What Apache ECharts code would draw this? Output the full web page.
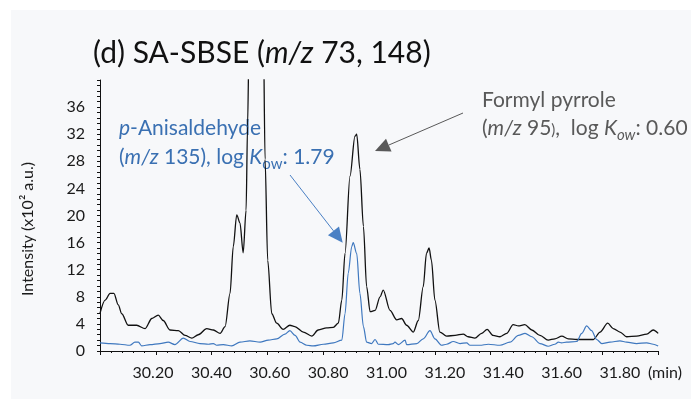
<!DOCTYPE html>
<html><head><meta charset="utf-8">
<script src="https://cdn.jsdelivr.net/npm/echarts@6/dist/echarts.min.js"></script>
<style>html,body{margin:0;padding:0;background:#fff}#c{width:691px;height:399px}</style>
</head><body><div id="c"></div>
<script>
// ---- data ----
const blackTime = [
30.018,30.036,30.053,30.066,30.081,30.093,30.115,30.144,30.173,30.196,
30.218,30.235,30.258,30.287,30.310,30.333,30.355,30.384,30.407,30.430,
30.447,30.464,30.475,30.487,30.498,30.509,30.519,30.524,30.530,30.553,
30.578,30.584,30.593,30.607,30.624,30.646,30.669,30.686,30.715,30.744,
30.766,30.795,30.818,30.835,30.847,30.858,30.875,30.892,30.898,30.909,
30.921,30.932,30.944,30.961,30.978,30.989,31.012,31.035,31.052,31.069,
31.092,31.109,31.126,31.137,31.146,31.154,31.166,31.183,31.206,31.235,
31.263,31.280,31.303,31.326,31.345,31.365,31.389,31.412,31.434,31.452,
31.474,31.498,31.526,31.554,31.577,31.601,31.623,31.652,31.709,31.732,
31.758,31.777,31.800,31.823,31.857,31.892,31.914,31.931];
const blackIntensity = [
5.5,7.5,8.5,8.5,6.8,5.5,3.8,3.8,3.3,4.8,
5.3,4.5,3.1,3.0,2.3,1.9,2.4,3.3,3.1,2.6,
3.6,8.5,15.4,20.1,18.9,14.5,20.8,33.2,48,75,
48,28.3,13.4,5.5,4.1,3.2,3.8,3.6,2.8,2.2,
3.1,3.4,3.5,4.1,7.5,14.4,25.8,31.7,32.0,26.8,
18.4,9.5,5.8,6.0,8.0,9.0,6.0,4.6,4.8,3.8,
2.8,4.5,9.5,14.4,15.2,13.4,7.5,2.8,2.2,2.3,
2.5,2.1,1.9,2.6,3.2,2.3,2.1,2.6,3.9,3.7,
3.9,3.1,2.3,1.6,1.8,2.2,1.8,1.7,1.7,2.8,
4.1,3.3,2.8,2.1,2.2,2.5,3.1,2.6];
const blueTime = [
30.018,30.053,30.087,30.121,30.138,30.150,30.161,30.190,30.224,30.252,
30.275,30.304,30.327,30.361,30.390,30.407,30.418,30.441,30.470,30.498,
30.532,30.567,30.595,30.624,30.652,30.669,30.687,30.704,30.727,30.749,
30.784,30.818,30.847,30.858,30.869,30.881,30.886,30.898,30.909,30.921,
30.932,30.949,30.961,30.972,31.006,31.023,31.029,31.041,31.064,31.069,
31.104,31.126,31.149,31.166,31.189,31.206,31.229,31.252,31.275,31.286,
31.320,31.349,31.389,31.423,31.452,31.475,31.498,31.526,31.554,31.577,
31.589,31.600,31.617,31.652,31.669,31.686,31.703,31.720,31.738,31.766,
31.800,31.823,31.857,31.892,31.914,31.931];
const blueIntensity = [
1.2,1.1,1.0,0.85,1.3,1.3,0.75,0.95,1.1,1.3,
0.95,1.9,1.4,1.1,1.0,1.1,0.85,0.95,0.75,1.3,
1.5,1.3,1.6,1.8,2.5,3.0,2.3,1.3,0.85,0.75,
1.0,1.2,1.6,5.5,11.5,15.4,16.0,14.4,8.5,3.6,
1.3,1.1,1.7,1.0,0.95,1.1,1.3,0.95,1.6,0.95,
1.1,1.8,3.0,1.8,0.85,1.0,1.4,1.1,1.2,0.85,
0.85,1.0,0.85,1.3,2.3,2.6,2.1,1.1,0.7,1.0,
1.3,1.2,1.3,1.4,2.6,3.7,3.0,1.7,1.1,1.3,
1.5,1.3,1.1,1.2,1.0,0.75];
const xLabelValues = [30.2,30.4,30.6,30.8,31.0,31.2,31.4,31.6,31.8];
const xAxisUnitLabel = '(min)';
const yTickValues = [0,4,8,12,16,20,24,28,32,36];

// ---- chart ----
const FONT = 'Lato, "Noto Sans", sans-serif';
const xMin = 30.0184, xMax = 31.9304, xTick = 0.1912;
const zip = (a, b) => a.map((v, i) => [v, b[i]]);

function arrow(x1, y1, x2, y2, color, len, half) {
  const dx = x2 - x1, dy = y2 - y1, L = Math.hypot(dx, dy);
  const ux = dx / L, uy = dy / L;
  const bx = x2 - ux * len, by = y2 - uy * len;
  return [
    {type: 'line', shape: {x1, y1, x2: bx, y2: by}, style: {stroke: color, lineWidth: 1}},
    {type: 'polygon', shape: {points: [[x2, y2], [bx - uy * half, by + ux * half], [bx + uy * half, by - ux * half]]},
     style: {fill: color}}
  ];
}

const chart = echarts.init(document.getElementById('c'), null, {renderer: 'canvas'});
const blueText = '#3a70b2';
const grayText = '#595959';
const AF = 21;
chart.setOption({
  animation: false,
  backgroundColor: '#ffffff',
  grid: {left: 100, right: 33, top: 80, bottom: 48},
  xAxis: {
    type: 'value', min: xMin, max: xMax, interval: xTick,
    axisLine: {show: true, lineStyle: {color: '#111', width: 1}},
    axisTick: {show: true, length: 4, lineStyle: {color: '#111'}},
    minorTick: {show: true, splitNumber: 5, length: 2, lineStyle: {color: '#111'}},
    splitLine: {show: false},
    axisLabel: {
      customValues: xLabelValues.concat([xMax]),
      margin: 14, fontSize: 16, fontFamily: FONT, color: '#1a1a1a',
      formatter: v => (v > 31.9 ? '{u|' + xAxisUnitLabel + '}' : v.toFixed(2)),
      rich: {u: {fontSize: 16, fontFamily: FONT, color: '#1a1a1a', padding: [0, 0, 0, 14]}}
    }
  },
  yAxis: {
    type: 'value', min: 0, max: 40, interval: 4,
    axisLine: {show: true, lineStyle: {color: '#111', width: 1}},
    axisTick: {show: true, length: 3, lineStyle: {color: '#111'}},
    minorTick: {show: true, splitNumber: 5, length: 3, lineStyle: {color: '#111'}},
    splitLine: {show: false},
    axisLabel: {customValues: yTickValues, margin: 15, fontSize: 16, fontFamily: FONT, color: '#1a1a1a'}
  },
  series: [
    {type: 'line', data: zip(blackTime, blackIntensity), showSymbol: false, smooth: 0.3,
     smoothMonotone: 'x', lineStyle: {color: '#111', width: 1.3}, clip: true, z: 3},
    {type: 'line', data: zip(blueTime, blueIntensity), showSymbol: false, smooth: 0.3,
     smoothMonotone: 'x', lineStyle: {color: '#3f78bf', width: 1.2}, clip: true, z: 4}
  ],
  graphic: [
    {type: 'rect', z: -10, shape: {x: 11, y: 10, width: 680, height: 389}, style: {fill: '#f7f8fa'}},
    {type: 'text', x: 93, y: 53, style: {
      text: '{n|(d) SA-SBSE (}{i|m/z}{n| 73, 148)}',
      verticalAlign: 'middle', align: 'left',
      rich: {n: {fontSize: 30, fontFamily: FONT, fill: '#111'}, i: {fontSize: 30, fontFamily: FONT, fontStyle: 'italic', fill: '#111'}}
    }},
    {type: 'text', x: 28, y: 229, rotation: Math.PI / 2, style: {
      text: 'Intensity (x10² a.u.)', fontSize: 16, fontFamily: FONT, fill: '#1a1a1a',
      align: 'center', verticalAlign: 'middle'
    }},
    {type: 'text', x: 119, y: 128, style: {
      text: '{i|p}{n|-Anisaldehyde}', verticalAlign: 'middle', align: 'left',
      rich: {n: {fontSize: AF, fontFamily: FONT, fill: blueText}, i: {fontSize: AF, fontFamily: FONT, fontStyle: 'italic', fill: blueText}}
    }},
    {type: 'text', x: 119, y: 157, style: {
      text: '{n|(}{i|m/z}{n| 135), log }{i|K}{s|ow}{n|: 1.79}', verticalAlign: 'middle', align: 'left',
      rich: {
        n: {fontSize: AF, fontFamily: FONT, fill: blueText, lineHeight: 29, verticalAlign: 'middle'},
        i: {fontSize: AF, fontFamily: FONT, fontStyle: 'italic', fill: blueText, lineHeight: 29, verticalAlign: 'middle'},
        s: {fontSize: 15, fontFamily: FONT, fill: blueText, lineHeight: 29, verticalAlign: 'bottom'}
      }
    }},
    {type: 'text', x: 482, y: 100, style: {
      text: 'Formyl pyrrole', fontSize: AF, fontFamily: FONT, fill: grayText, verticalAlign: 'middle', align: 'left'
    }},
    {type: 'text', x: 482, y: 128, style: {
      text: '{n|(}{i|m/z}{n| 95}{p|)}{n|,  log }{i|K}{s|ow}{n|: 0.60}', verticalAlign: 'middle', align: 'left',
      rich: {
        n: {fontSize: AF, fontFamily: FONT, fill: grayText, lineHeight: 29, verticalAlign: 'middle'},
        p: {fontSize: 15, fontFamily: FONT, fill: grayText, lineHeight: 29, verticalAlign: 'middle', padding: [4, 0, 0, 0]},
        i: {fontSize: AF, fontFamily: FONT, fontStyle: 'italic', fill: grayText, lineHeight: 29, verticalAlign: 'middle'},
        s: {fontSize: 15, fontFamily: FONT, fontStyle: 'italic', fill: grayText, lineHeight: 29, verticalAlign: 'bottom'}
      }
    }},
    ...arrow(290, 175, 342.7, 242.7, '#4a80c4', 15, 7),
    ...arrow(463, 113, 375, 151, '#595959', 15, 7)
  ]
});
</script></body></html>
